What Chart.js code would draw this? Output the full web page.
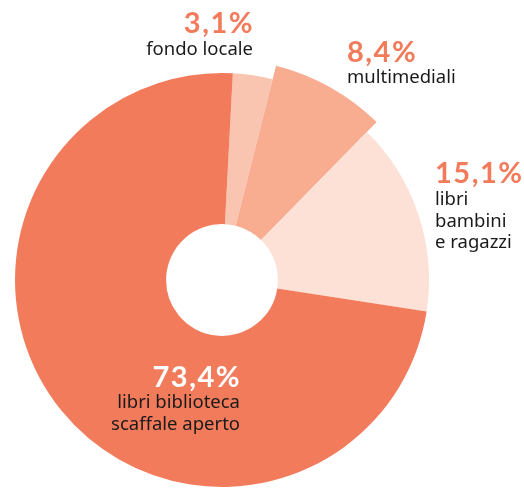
<!DOCTYPE html>
<html>
<head>
<meta charset="utf-8">
<script src="https://cdn.jsdelivr.net/npm/chart.js@4/dist/chart.umd.min.js"></script>
<style>
  body { margin: 0; background: #fff; }
  canvas { display: block; }
</style>
</head>
<body>
<canvas id="myChart" width="524" height="488"></canvas>
<script>
// data
var categories = [
    ['fondo locale'],
    ['multimediali'],
    ['libri', 'bambini', 'e ragazzi'],
    ['libri biblioteca', 'scaffale aperto']
];
var percentuali = [3.1, 8.4, 15.1, 73.4];

var colori = ['#f9c5b0', '#f8ac90', '#fde1d6', '#f27b5c'];

// where each label goes: x, align, baseline of the %, baseline of first text line
var etichette = [
    { x: 253, align: 'right', yPct: 33, yTxt: 55, colPct: '#f27b5c' },
    { x: 347, align: 'left', yPct: 62, yTxt: 83, colPct: '#f27b5c' },
    { x: 435, align: 'left', yPct: 183, yTxt: 205, colPct: '#f27b5c' },
    { x: 240, align: 'right', yPct: 387, yTxt: 408, colPct: '#ffffff' }
];

// the "multimediali" slice sticks out a bit
var bigSlice = 1;
var extraRadius = 14;

var allarga = {
    id: 'allarga',
    afterDatasetsUpdate: function(chart) {
        var arc = chart.getDatasetMeta(0).data[bigSlice];
        if (arc) arc.outerRadius = arc.outerRadius + extraRadius;
    }
};

var scritte = {
    id: 'scritte',
    afterDraw: function(chart) {
        var ctx = chart.ctx;
        ctx.save();
        ctx.textBaseline = 'alphabetic';
        for (var i = 0; i < percentuali.length; i++) {
            var e = etichette[i];
            ctx.textAlign = e.align;
            ctx.fillStyle = e.colPct;
            ctx.font = 'bold 29px Lato';
            ctx.letterSpacing = '1.5px';
            var testo = percentuali[i].toFixed(1).replace('.', ',') + '%';
            ctx.fillText(testo, e.x + (e.align === 'right' ? 1 : 0), e.yPct);
            ctx.letterSpacing = '0px';
            ctx.fillStyle = '#1a1a1a';
            ctx.font = '18.5px "Noto Sans"';
            for (var j = 0; j < categories[i].length; j++) {
                ctx.fillText(categories[i][j], e.x, e.yTxt + j * 21.5);
            }
        }
        ctx.restore();
    }
};

var ctx = document.getElementById('myChart');

var graphique = new Chart(ctx.getContext('2d'), {
    type: 'doughnut',
    data: {
        labels: categories,
        datasets: [{
            data: percentuali,
            backgroundColor: colori,
            borderWidth: 0
        }]
    },
    options: {
        responsive: false,
        animation: false,
        rotation: 3,
        radius: 207,
        cutout: '27%',
        layout: { padding: { left: 0, right: 80, top: 72, bottom: 0 } },
        plugins: {
            legend: { display: false },
            tooltip: { enabled: false }
        }
    },
    plugins: [allarga, scritte]
});
</script>
</body>
</html>
